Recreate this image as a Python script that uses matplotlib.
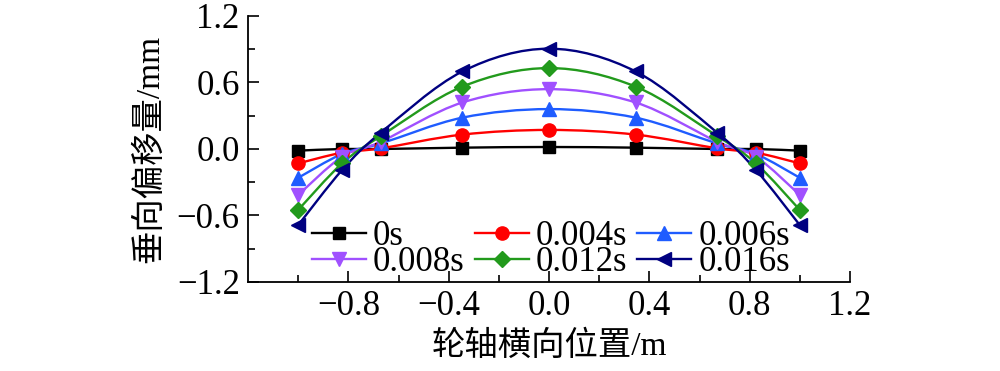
import matplotlib
matplotlib.use("Agg")
import matplotlib.pyplot as plt
import numpy as np
from matplotlib.path import Path
from matplotlib.patches import PathPatch
from matplotlib.lines import Line2D
from matplotlib.ticker import MultipleLocator, FixedLocator

plt.rcParams['font.family'] = ['Liberation Serif', 'Noto Sans CJK SC']
plt.rcParams['axes.unicode_minus'] = True

x_pos = [-1.0, -0.825, -0.67, -0.345, 0.0, 0.345, 0.67, 0.825, 1.0]
labels = ['0s', '0.004s', '0.006s', '0.008s', '0.012s', '0.016s']
y_0s    = [-0.015, 0.0, 0.0, 0.012, 0.018, 0.012, 0.0, 0.0, -0.015]
y_0004s = [-0.13, -0.033, 0.006, 0.13, 0.172, 0.13, 0.006, -0.033, -0.13]
y_0006s = [-0.26, -0.045, 0.05, 0.283, 0.36, 0.283, 0.05, -0.045, -0.26]
y_0008s = [-0.415, -0.07, 0.066, 0.42, 0.54, 0.42, 0.066, -0.07, -0.415]
y_0012s = [-0.55, -0.13, 0.117, 0.563, 0.73, 0.563, 0.117, -0.13, -0.55]
y_0016s = [-0.687, -0.19, 0.148, 0.70, 0.905, 0.70, 0.148, -0.19, -0.687]
series = [y_0s, y_0004s, y_0006s, y_0008s, y_0012s, y_0016s]
colors = ['#000000', '#ff0000', '#1f5cff', '#a050ff', '#229a1c', '#000080']
markers = ['s', 'o', '^', 'v', 'D', '<']
msizes = [8.5, 9.5, 9.5, 9.5, 8.0, 9.5]

def smooth_path(xs, ys):
    pts = np.column_stack([xs, ys])
    verts = [pts[0]]
    codes = [Path.MOVETO]
    n = len(pts)
    for i in range(n - 1):
        p0 = pts[i - 1] if i > 0 else pts[i]
        p1 = pts[i]
        p2 = pts[i + 1]
        p3 = pts[i + 2] if i + 2 < n else pts[i + 1]
        c1 = p1 + (p2 - p0) / 6.0
        c2 = p2 - (p3 - p1) / 6.0
        verts += [c1, c2, p2]
        codes += [Path.CURVE4] * 3
    return Path(verts, codes)

fig = plt.figure(figsize=(10, 3.71), dpi=100)
ax = fig.add_axes([0.248, 0.2399, 0.602, 0.7170])

handles = []
for ys, c, m, ms, lab in zip(series, colors, markers, msizes, labels):
    ax.add_patch(PathPatch(smooth_path(x_pos, ys), facecolor='none',
                           edgecolor=c, lw=1.7, zorder=2))
    ax.plot(x_pos, ys, linestyle='none', marker=m, color=c, ms=ms, zorder=3)
    handles.append(Line2D([], [], color=c, lw=1.7, marker=m, ms=ms, label=lab))

ax.set_xlim(-1.2, 1.2)
ax.set_ylim(-1.2, 1.2)
ax.xaxis.set_major_locator(FixedLocator([-0.8, -0.4, 0.0, 0.4, 0.8, 1.2]))
ax.xaxis.set_minor_locator(FixedLocator([-1.0, -0.6, -0.2, 0.2, 0.6, 1.0]))
ax.yaxis.set_major_locator(MultipleLocator(0.6))
ax.yaxis.set_minor_locator(MultipleLocator(0.3))
ax.xaxis.set_major_formatter(plt.FuncFormatter(lambda v, p: f"{v:.1f}".replace('-', '\u2212')))
ax.yaxis.set_major_formatter(plt.FuncFormatter(lambda v, p: f"{v:.1f}".replace('-', '\u2212')))

for s in ['top', 'right']:
    ax.spines[s].set_visible(False)
for s in ['left', 'bottom']:
    ax.spines[s].set_linewidth(1.3)
ax.tick_params(which='both', direction='in', width=1.2, labelsize=25,
               top=False, right=False)
ax.tick_params(which='major', length=8, pad=6)
ax.tick_params(which='minor', length=5)

ax.set_xlabel('轮轴横向位置/m', fontsize=24, labelpad=5)
ax.set_ylabel('垂向偏移量/mm', fontsize=24, labelpad=8)

order = [0, 3, 1, 4, 2, 5]
leg = ax.legend([handles[i] for i in order], [labels[i] for i in order],
                ncol=3, loc='center', bbox_to_anchor=(0.503, 0.122),
                frameon=False, fontsize=25, handlelength=1.55,
                handletextpad=0.2, columnspacing=0.3, labelspacing=-0.22,
                borderaxespad=0, borderpad=0)

fig.savefig('out.png', dpi=100)
